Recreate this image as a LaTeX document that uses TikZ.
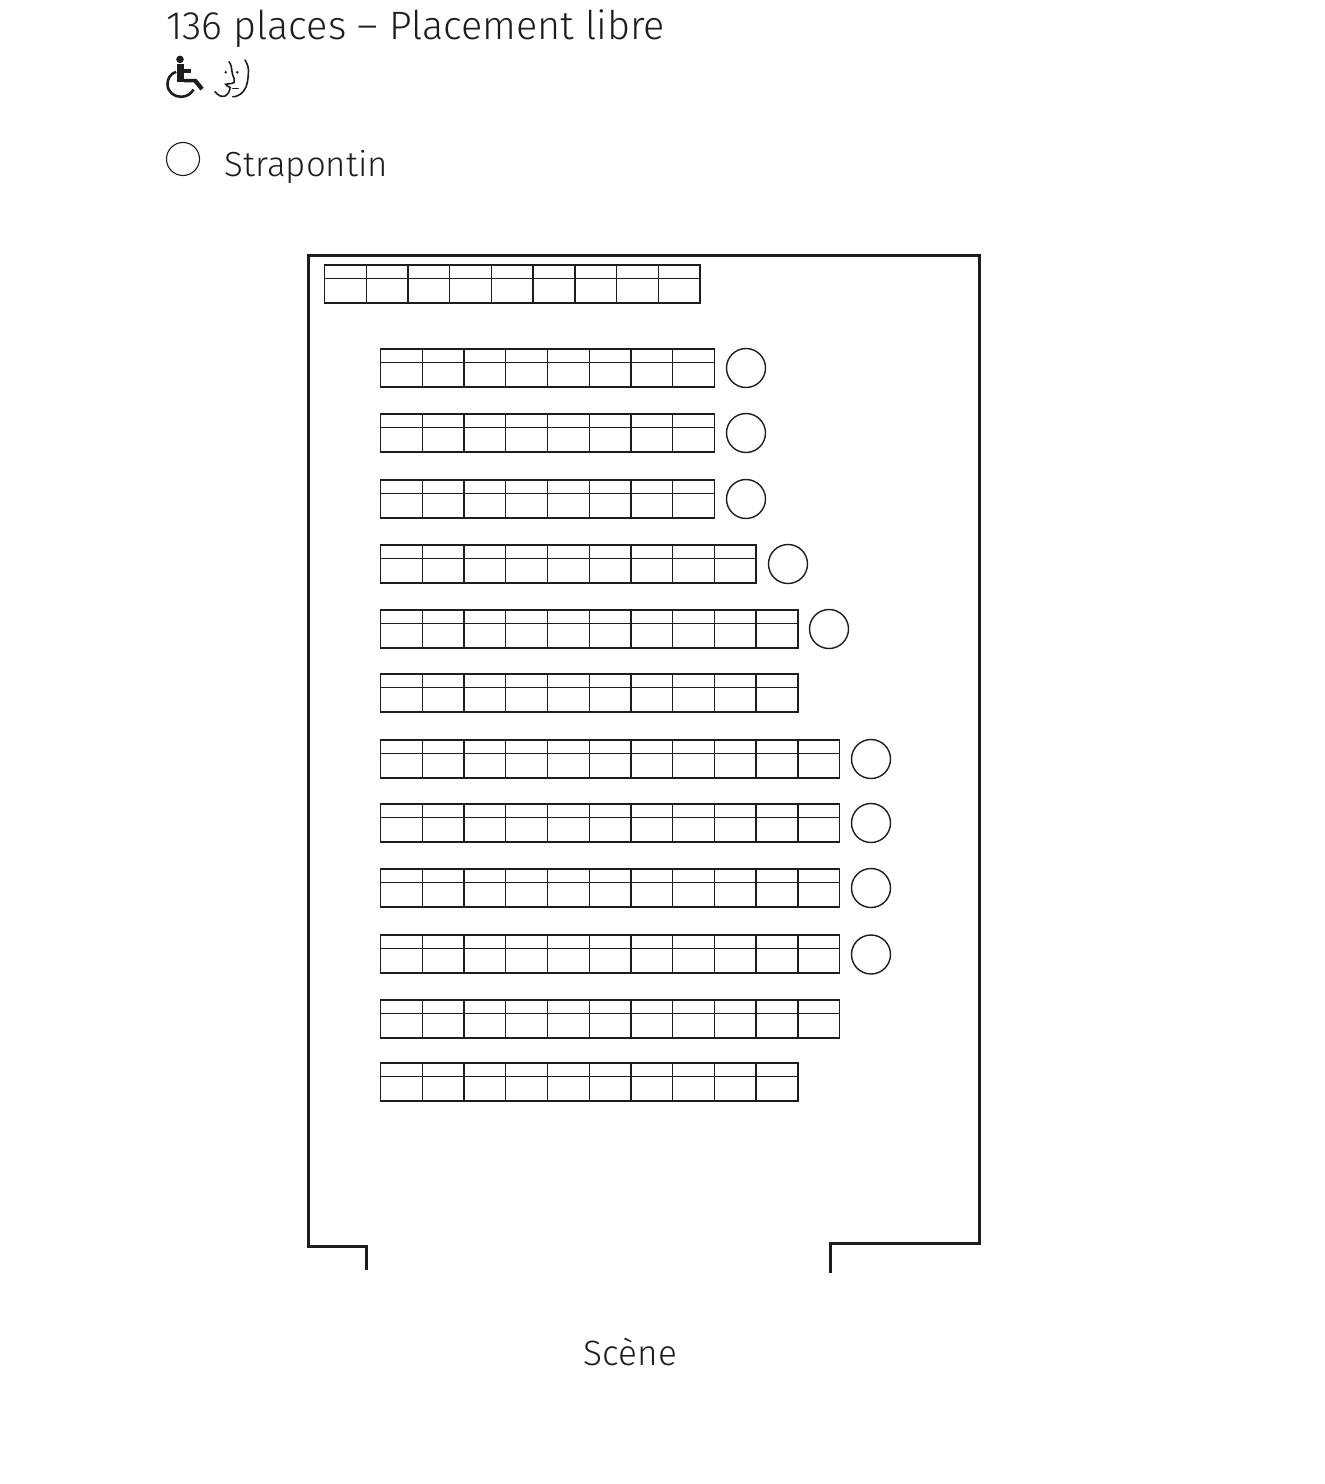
\documentclass[tikz,border=0pt]{standalone}
\usepackage{fontspec}
\setmainfont{Fira Sans Light}
\definecolor{ink}{HTML}{1D1D1B}
\tikzset{
 seatline/.style={draw=ink,line width=1.4*0.75pt},
 wall/.style={draw=ink,line width=3*0.75pt,line join=miter},
 foldseat/.style={draw=ink,line width=1.4*0.75pt},
 legendtext/.style={anchor=base west,inner sep=0pt,text=ink},
 iconline/.style={draw=ink,line width=1.6*0.75pt,line cap=round},
}
\newcommand{\seatrow}[4]{% x0, ytop, count, pitch
 \pgfmathsetmacro{\xend}{#1+#3*#4}
 \draw[seatline] (#1,#2) rectangle (\xend,#2+38);
 \draw[seatline] (#1,#2+13.5) -- (\xend,#2+13.5);
 \foreach \k in {1,...,#3}{
  \pgfmathsetmacro{\xk}{#1+\k*#4}
  \ifnum\k<#3 \draw[seatline] (\xk,#2) -- (\xk,#2+38);\fi
 }
}
\begin{document}
\begin{tikzpicture}[x=0.75pt,y=-0.75pt]
\useasboundingbox (0,0) rectangle (1324,1484);
% text
\node[legendtext,font=\fontsize{29.7}{34}\selectfont] (title) at (166,40) {136 places – Placement libre};
\node[legendtext,font=\fontsize{26.1}{30}\selectfont] (strap) at (224.5,176) {Strapontin};
\node[legendtext,font=\fontsize{26.4}{30}\selectfont] (scene) at (583.5,1365) {Scène};
% legend circle
\draw[foldseat,line width=1.1*0.75pt] (183,159) circle (16.5);
% wheelchair
\fill[ink] (180,59.4) circle (3.8);
\fill[ink] (176.8,64) rectangle (184,82.5);
\fill[ink] (184,69.5) rectangle (190.7,73);
\fill[ink] (184,79) -- (196.5,79) -- (203.5,87.5) -- (200.5,90.5) -- (194,82.5) -- (184,82.5) -- cycle;
\draw[ink,line width=2.6*0.75pt] (176,71.8) .. controls (170,74) and (167.5,79) .. (167.5,84) .. controls (167.5,92) and (174,96.8) .. (181,96.8) .. controls (186.5,96.8) and (191,94) .. (193.5,89.5);
% face
\draw[iconline] (229,61.7) .. controls (232,65) and (231.5,71) .. (232.7,75) .. controls (233.5,78) and (235.5,79.5) .. (234,82.5) .. controls (232,84) and (228,83.5) .. (225.7,84.3) .. controls (226.5,86) and (228,86.5) .. (230,87.3) .. controls (230,91) and (228,94.5) .. (225,96) .. controls (221,97.5) and (218,95) .. (215,91.7);
\draw[iconline] (245,60) .. controls (248,65) and (249,69) .. (248.3,74) .. controls (248,79) and (247.5,83) .. (246,87) .. controls (244,91) and (241.5,94) .. (238.3,95.3) .. controls (236,96.5) and (234.5,97) .. (232.7,96.7);
\draw[iconline] (232.7,88.5) -- (238.3,88.5);
\fill[ink] (225.7,72.3) circle (1.4);
\fill[ink] (237.3,72.3) circle (1.4);
% hall walls
\draw[wall] (366,1270) -- (366,1246) -- (308.5,1246) -- (308.5,255) -- (979.5,255) -- (979.5,1243.5) -- (830,1243.5) -- (830,1273);
% seats
\seatrow{324.5}{265}{9}{41.73}
\foreach \yy/\nn in {349/8,414/8,480/8,545/9,610/10,674/10,740/11,804/11,869/11,935/11,1000/11,1063/10}{
 \seatrow{380.6}{\yy}{\nn}{41.73}
}
% folding seats
\foreach \cx/\cy/\nm in {746/368/c1,746/433/c2,746/499/c3,788/564/c4,829/629/c5,871/759/c6,871/823/c7,871/888/c8,871/954.5/c9}{
 \draw[foldseat] (\cx,\cy) circle (19.5);
}
\end{tikzpicture}
\end{document}
